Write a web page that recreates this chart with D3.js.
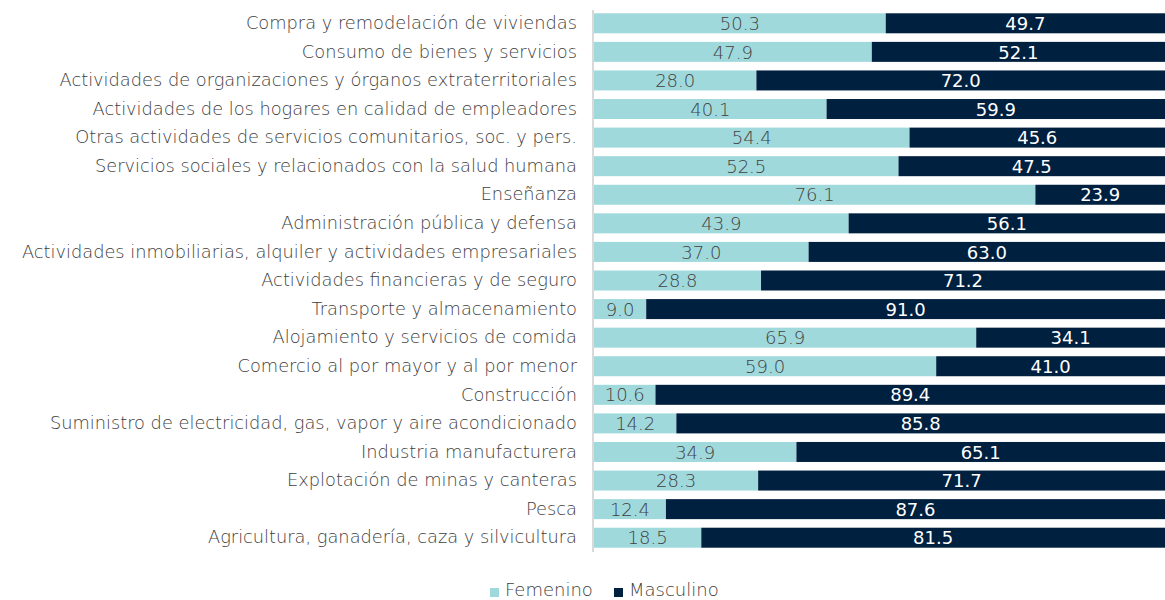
<!DOCTYPE html>
<html>
<head>
<meta charset="utf-8">
<script src="https://cdn.jsdelivr.net/npm/d3@7"></script>
<style>
  html, body { margin: 0; padding: 0; background: #fff; }
  svg { display: block; }
  text { font-family: "DejaVu Sans", "Noto Sans", sans-serif; }
</style>
</head>
<body>
<svg id="chart" width="1165" height="600"></svg>
<script>
// Sectors, top to bottom
const categories = [
  "Compra y remodelación de viviendas",
  "Consumo de bienes y servicios",
  "Actividades de organizaciones y órganos extraterritoriales",
  "Actividades de los hogares en calidad de empleadores",
  "Otras actividades de servicios comunitarios, soc. y pers.",
  "Servicios sociales y relacionados con la salud humana",
  "Enseñanza",
  "Administración pública y defensa",
  "Actividades inmobiliarias, alquiler y actividades empresariales",
  "Actividades financieras y de seguro",
  "Transporte y almacenamiento",
  "Alojamiento y servicios de comida",
  "Comercio al por mayor y al por menor",
  "Construcción",
  "Suministro de electricidad, gas, vapor y aire acondicionado",
  "Industria manufacturera",
  "Explotación de minas y canteras",
  "Pesca",
  "Agricultura, ganadería, caza y silvicultura"
];
// Share (%) by sex
const femenino  = [50.3, 47.9, 28.0, 40.1, 54.4, 52.5, 76.1, 43.9, 37.0, 28.8, 9.0, 65.9, 59.0, 10.6, 14.2, 34.9, 28.3, 12.4, 18.5];
const masculino = [49.7, 52.1, 72.0, 59.9, 45.6, 47.5, 23.9, 56.1, 63.0, 71.2, 91.0, 34.1, 41.0, 89.4, 85.8, 65.1, 71.7, 87.6, 81.5];
const seriesNames = ["Femenino", "Masculino"];
const seriesColors = ["#a0d9dc", "#00203f"];
const labelColors = ["#404040", "#ffffff"];

const rows = categories.map((c, i) => ({ cat: c, Femenino: femenino[i], Masculino: masculino[i] }));
const stacked = d3.stack().keys(seriesNames)(rows);

const svg = d3.select("#chart");

const x = d3.scaleLinear().domain([0, 100]).range([594, 1174]);
const y = d3.scaleBand().domain(categories).range([9, 552]).paddingInner(0.3).paddingOuter(0.15);

// Bars
const layers = svg.append("g").selectAll("g")
  .data(stacked)
  .join("g")
  .attr("fill", (d, i) => seriesColors[i]);

layers.selectAll("rect")
  .data(d => d)
  .join("rect")
  .attr("x", d => x(d[0]))
  .attr("y", d => y(d.data.cat))
  .attr("width", d => x(d[1]) - x(d[0]))
  .attr("height", y.bandwidth());

// Value labels centred in each segment
stacked.forEach((layer, si) => {
  svg.append("g").selectAll("text")
    .data(layer)
    .join("text")
    .attr("x", d => (x(d[0]) + Math.min(x(d[1]), 1165)) / 2)
    .attr("y", d => y(d.data.cat) + y.bandwidth() / 2)
    .attr("dy", "0.37em")
    .attr("text-anchor", "middle")
    .attr("font-size", 18)
    .attr("fill", labelColors[si])
    .attr("font-weight", si === 1 ? 400 : 200)
    .text(d => (d[1] - d[0]).toFixed(1));
});

// Category axis
const yAxis = svg.append("g")
  .attr("transform", "translate(593,0)")
  .call(d3.axisLeft(y).tickSize(0).tickPadding(16));
yAxis.select(".domain").attr("stroke", "#d9d9d9").attr("stroke-width", 2)
  .attr("d", "M0,10V552");
yAxis.selectAll("text")
  .attr("font-family", "'DejaVu Sans', sans-serif")
  .attr("font-weight", 200)
  .attr("font-size", 17.8)
  .attr("fill", "#404040");

// Legend
const legend = svg.append("g");
const legendItems = [
  { name: "Femenino", color: seriesColors[0], x: 490 },
  { name: "Masculino", color: seriesColors[1], x: 614 }
];
legendItems.forEach(it => {
  legend.append("rect").attr("x", it.x).attr("y", 588).attr("width", 9).attr("height", 9).attr("fill", it.color);
  legend.append("text").attr("x", it.x + 15).attr("y", 596)
    .attr("font-size", 18).attr("font-weight", 200).attr("fill", "#404040").text(it.name);
});
</script>
</body>
</html>
